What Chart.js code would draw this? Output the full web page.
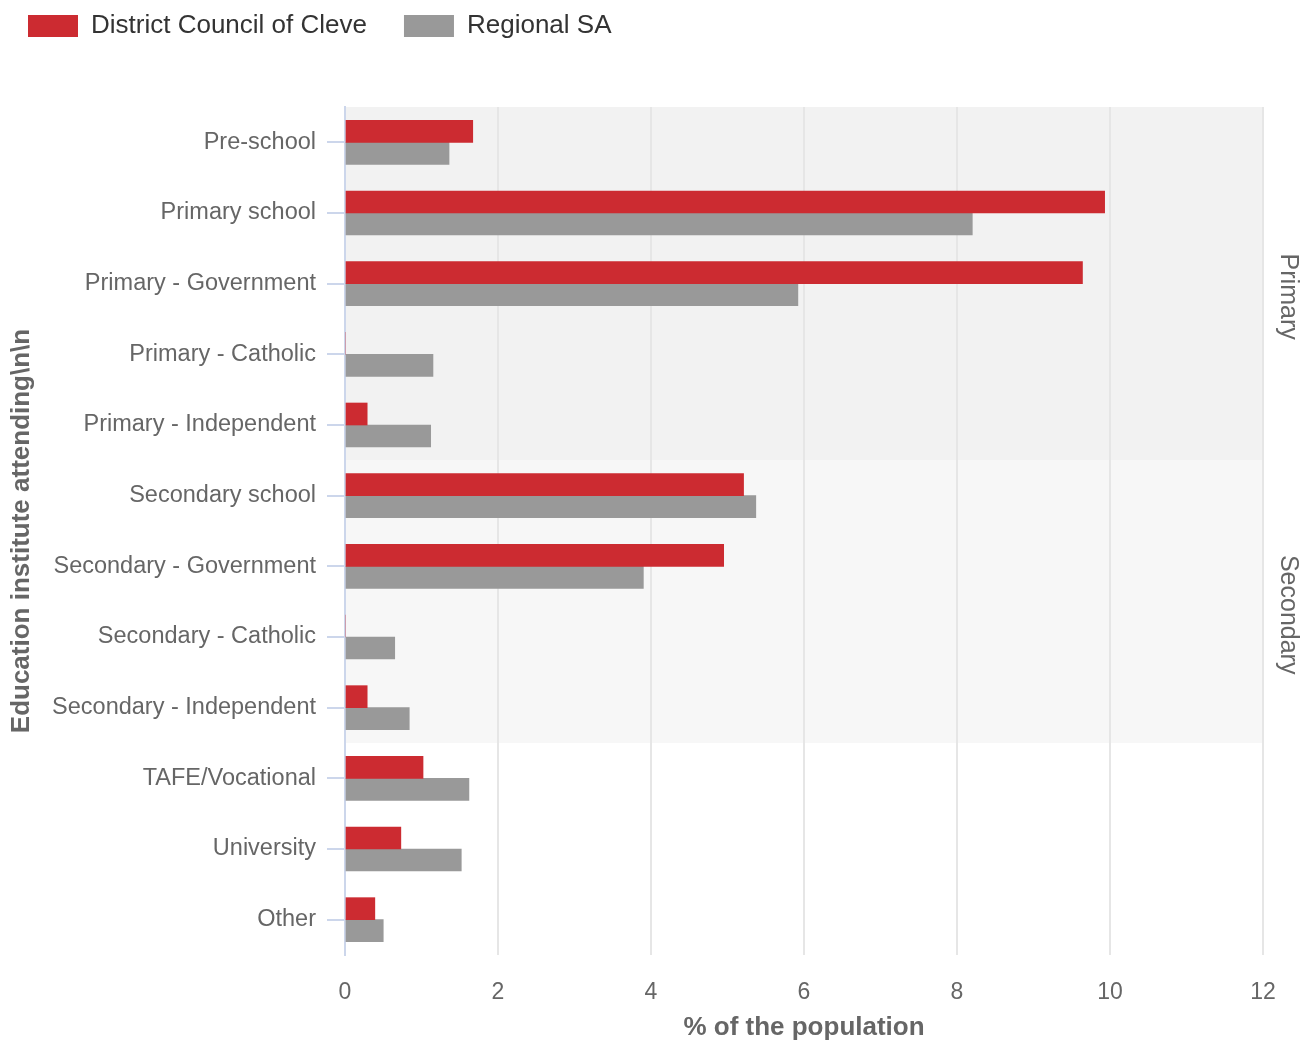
<!DOCTYPE html>
<html>
<head>
<meta charset="utf-8">
<script src="https://cdn.jsdelivr.net/npm/chart.js@4/dist/chart.umd.min.js"></script>
<style>
  body { margin: 0; background: #fff; }
  #wrap { width: 1315px; height: 1046px; position: relative; }
</style>
</head>
<body>
<div id="wrap"><canvas id="eduChart"></canvas></div>
<script>
        // Chart data
        const categories = [
            'Pre-school', 'Primary school', 'Primary - Government', 'Primary - Catholic',
            'Primary - Independent', 'Secondary school', 'Secondary - Government',
            'Secondary - Catholic', 'Secondary - Independent', 'TAFE/Vocational',
            'University', 'Other'
        ];
        const cleveValues = [1.67, 9.93, 9.64, 0, 0.29, 5.21, 4.95, 0, 0.29, 1.02, 0.73, 0.39];
        const regionalValues = [1.36, 8.20, 5.92, 1.15, 1.12, 5.37, 3.90, 0.65, 0.84, 1.62, 1.52, 0.50];
        const xTicks = [0, 2, 4, 6, 8, 10, 12];

        // Shaded groups: label, first and last category index
        const bandLabels = ['Primary', 'Secondary'];
        const bandRanges = [[0, 4], [5, 8]];
        const bandColors = ['#f2f2f2', '#f7f7f7'];

        const font = "'Liberation Sans', Arial, sans-serif";

        // legend sits in the top 107px, plot starts below it
        const legendSpacer = {
            id: 'legendSpacer',
            beforeInit(chart) {
                const legend = chart.legend;
                const fit = legend.fit;
                legend.fit = function () {
                    fit.bind(legend)();
                    this.height = 107;
                };
                const draw = legend.draw;
                legend.draw = function () {
                    const c = chart.ctx;
                    c.save();
                    c.translate(-9, -24);
                    draw.bind(legend)();
                    c.restore();
                };
            }
        };

        const plotBands = {
            id: 'plotBands',
            beforeDraw(chart) {
                const { ctx, chartArea, scales } = chart;
                const y = scales.y;
                ctx.save();
                bandRanges.forEach((r, i) => {
                    const top = y.getPixelForValue(r[0] - 0.5);
                    const bottom = y.getPixelForValue(r[1] + 0.5);
                    ctx.fillStyle = bandColors[i];
                    ctx.fillRect(chartArea.left, top, chartArea.right - chartArea.left, bottom - top);
                });
                ctx.restore();
            },
            afterDraw(chart) {
                const { ctx, chartArea, scales } = chart;
                const y = scales.y;
                ctx.save();
                ctx.fillStyle = '#666';
                ctx.font = '25px ' + font;
                ctx.textAlign = 'center';
                ctx.textBaseline = 'middle';
                bandRanges.forEach((r, i) => {
                    const mid = (y.getPixelForValue(r[0] - 0.5) + y.getPixelForValue(r[1] + 0.5)) / 2 + 13;
                    ctx.save();
                    ctx.translate(chartArea.right + 25, mid);
                    ctx.rotate(Math.PI / 2);
                    ctx.fillText(bandLabels[i], 0, 0);
                    ctx.restore();
                });
                ctx.restore();
            }
        };

        const ctx = document.getElementById('eduChart').getContext('2d');
        new Chart(ctx, {
            type: 'bar',
            data: {
                labels: categories,
                datasets: [{
                    label: 'District Council of Cleve',
                    data: cleveValues,
                    backgroundColor: '#cc2b31',
                    barThickness: 22
                }, {
                    label: 'Regional SA',
                    data: regionalValues,
                    backgroundColor: '#999999',
                    barThickness: 22
                }]
            },
            options: {
                indexAxis: 'y',
                responsive: true,
                maintainAspectRatio: false,
                animation: false,
                layout: { padding: { left: 0, right: 52, top: 0, bottom: 0 } },
                plugins: {
                    legend: {
                        position: 'top',
                        align: 'start',
                        labels: {
                            boxWidth: 50,
                            boxHeight: 22,
                            padding: 37,
                            color: '#333',
                            font: { family: font, size: 26 }
                        }
                    },
                    tooltip: { enabled: false }
                },
                scales: {
                    x: {
                        min: 0,
                        max: 12,
                        afterBuildTicks: scale => { scale.ticks = xTicks.map(v => ({ value: v })); },
                        afterFit: scale => { scale.height = 91; },
                        grid: { color: '#e6e6e6', lineWidth: 2, drawTicks: false },
                        border: { display: false },
                        ticks: { color: '#666', padding: 24, font: { family: font, size: 23 } },
                        title: {
                            display: true,
                            text: '% of the population',
                            color: '#666',
                            padding: { top: 8, bottom: 3 },
                            font: { family: font, size: 26, weight: 'bold' }
                        }
                    },
                    y: {
                        afterFit: scale => { scale.width = 345; },
                        grid: {
                            drawOnChartArea: false,
                            offset: false,
                            tickLength: 18,
                            tickColor: '#ccd6eb',
                            lineWidth: 2
                        },
                        border: { color: '#ccd6eb', width: 2 },
                        ticks: { color: '#666', padding: 11, font: { family: font, size: 23.5 } },
                        title: {
                            display: true,
                            text: 'Education institute attending\\n\\n',
                            color: '#666',
                            padding: { top: 6, bottom: 0 },
                            font: { family: font, size: 26, weight: 'bold' }
                        }
                    }
                }
            },
            plugins: [legendSpacer, plotBands]
        });
</script>
</body>
</html>
